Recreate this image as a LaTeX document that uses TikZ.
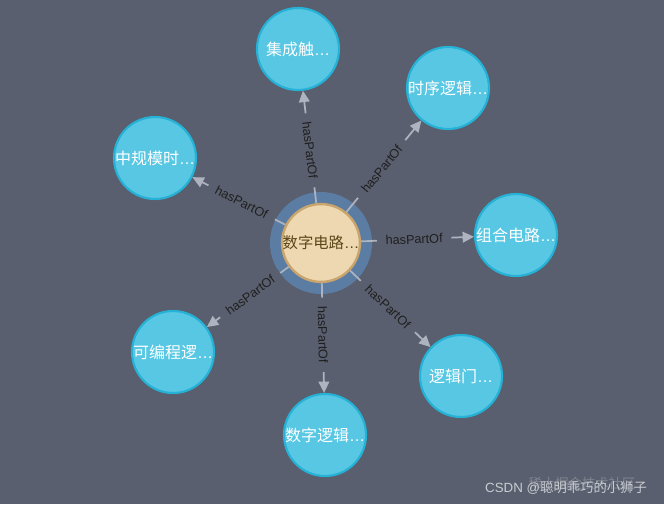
\documentclass[tikz,border=0pt]{standalone}
\usepackage{fontspec}
\setmainfont{Liberation Sans}
\newfontfamily\cjk{Noto Sans CJK SC}
\usetikzlibrary{arrows.meta}

\definecolor{bgcol}{HTML}{595F6E}
\definecolor{halocol}{HTML}{5B7DA3}
\definecolor{leafcol}{HTML}{57C7E3}
\definecolor{leafline}{HTML}{26B2D6}
\definecolor{rootcol}{HTML}{EDD8B1}
\definecolor{rootline}{HTML}{C9A46C}
\definecolor{roottext}{HTML}{5A4718}
\definecolor{relcol}{HTML}{AEB4BF}
\definecolor{markcol}{HTML}{C9CCD2}

\begin{document}
\begin{tikzpicture}[x=0.75pt, y=-0.75pt,
	leaf/.style={shape=circle, fill=leafcol, draw=leafline, line width=1.6pt, minimum size=61.5pt, inner sep=0pt, text=white, font=\fontsize{12}{14}\selectfont},
	root/.style={shape=circle, fill=rootcol, draw=rootline, line width=1.8pt, minimum size=57pt, inner sep=0pt, text=roottext, font=\fontsize{11.5}{14}\selectfont},
	rel/.style={-{Triangle[length=8.5pt,width=8pt]}, color=relcol, line width=1.3pt},
	lbl/.style={sloped, pos=0.47, fill=bgcol, inner xsep=6.5pt, inner ysep=1pt, text=black!88, font=\fontsize{9.5}{11}\selectfont}]
	
	\fill[bgcol] (0,0) rectangle (664,504);
	\useasboundingbox (0,0) rectangle (664,504);
	
	\node[shape=circle, fill=halocol, minimum size=76.5pt, inner sep=0pt] (halo) at (321, 243) {};
	\node[root] (c) at (321, 243) {{\cjk 数字电路}…};
	
	\node[leaf] (ic)    at (298, 49)  {{\cjk 集成触}…};
	\node[leaf] (seq)   at (448, 88)  {{\cjk 时序逻辑}…};
	\node[leaf] (msi)   at (155, 158) {{\cjk 中规模时}…};
	\node[leaf] (comb)  at (516, 235) {{\cjk 组合电路}…};
	\node[leaf] (pld)   at (173, 352) {{\cjk 可编程逻}…};
	\node[leaf] (gate)  at (461, 376) {{\cjk 逻辑门}…};
	\node[leaf] (logic) at (325, 435) {{\cjk 数字逻辑}…};
	
	\draw[rel] (c) edge node[lbl] {hasPartOf} (ic);
	\draw[rel] (c) edge node[lbl] {hasPartOf} (seq);
	\draw[rel] (c) edge node[lbl] {hasPartOf} (msi);
	\draw[rel] (c) edge node[lbl] {hasPartOf} (comb);
	\draw[rel] (c) edge node[lbl] {hasPartOf} (pld);
	\draw[rel] (c) edge node[lbl] {hasPartOf} (gate);
	\draw[rel] (c) edge node[lbl] {hasPartOf} (logic);
	
	% watermark
	\node[text=markcol, opacity=0.35, font=\cjk\fontsize{10}{12}\selectfont] (jj) at (582, 483) {稀土掘金技术社区};
	\node[text=markcol, font=\fontsize{10}{12}\selectfont] (csdn) at (566, 488) {CSDN @{\cjk 聪明乖巧的小狮子}};
	
\end{tikzpicture}
\end{document}
